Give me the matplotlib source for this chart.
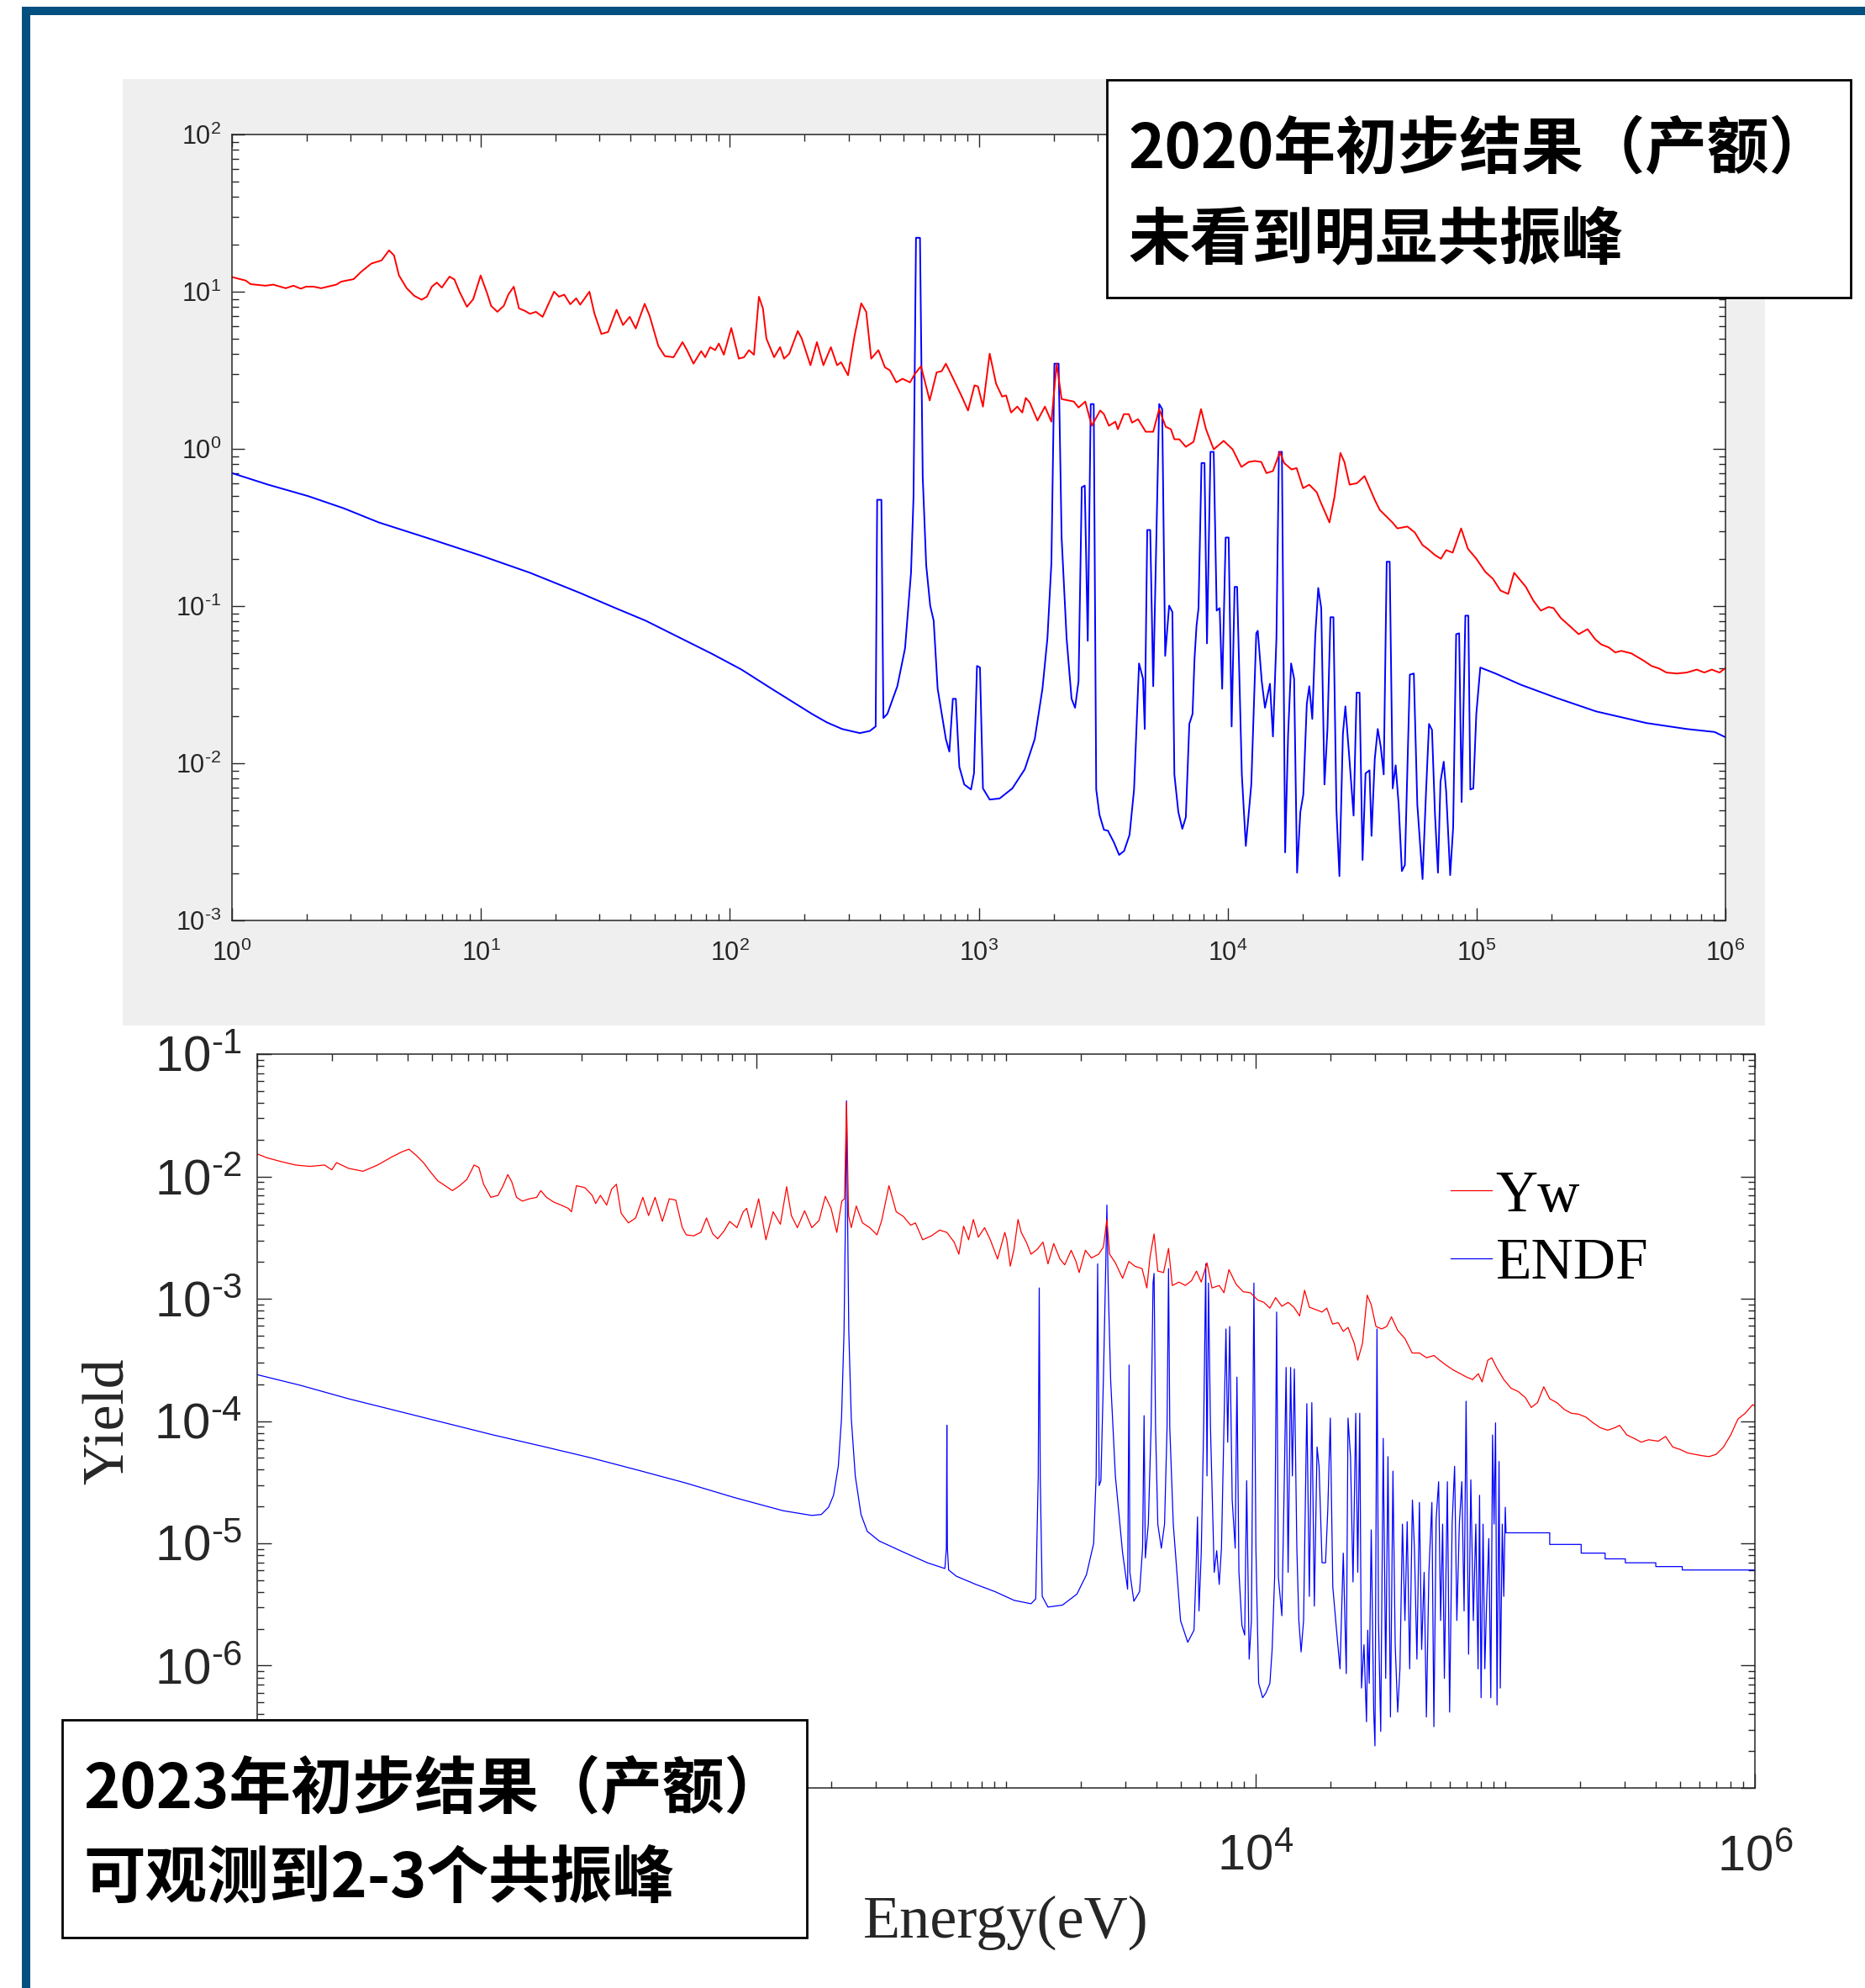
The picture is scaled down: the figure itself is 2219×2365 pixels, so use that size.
import matplotlib.pyplot as plt
import numpy as np
from matplotlib.patches import Rectangle
from matplotlib.ticker import FixedLocator, FuncFormatter, NullFormatter

plt.rcParams['font.family'] = ['Liberation Sans', 'Noto Sans CJK SC']
plt.rcParams['mathtext.fontset'] = 'custom'
plt.rcParams['mathtext.rm'] = 'Liberation Sans'
plt.rcParams['mathtext.default'] = 'regular'
plt.rcParams['axes.unicode_minus'] = False

# (log10 E [eV], log10 yield) pairs, 2020 measurement vs ENDF
yield_2020 = [
    (0.000, 1.093), (0.055, 1.071), (0.075, 1.048), (0.135, 1.038), (0.166, 1.045), (0.216, 1.022),
    (0.247, 1.038), (0.277, 1.019), (0.297, 1.032), (0.328, 1.032), (0.358, 1.022), (0.419, 1.045),
    (0.439, 1.064), (0.489, 1.080), (0.520, 1.128), (0.560, 1.179), (0.601, 1.199), (0.631, 1.263),
    (0.651, 1.231), (0.671, 1.103), (0.702, 1.022), (0.732, 0.974), (0.762, 0.949), (0.783, 0.968),
    (0.803, 1.032), (0.823, 1.058), (0.843, 1.026), (0.874, 1.096), (0.894, 1.077), (0.914, 1.000),
    (0.944, 0.904), (0.969, 0.952), (0.999, 1.103), (1.025, 0.990), (1.041, 0.910), (1.066, 0.872),
    (1.092, 0.910), (1.110, 0.981), (1.132, 1.032), (1.153, 0.894), (1.177, 0.878), (1.197, 0.859),
    (1.221, 0.872), (1.248, 0.840), (1.294, 1.000), (1.314, 0.968), (1.335, 0.981), (1.359, 0.920),
    (1.383, 0.958), (1.399, 0.917), (1.436, 1.000), (1.456, 0.862), (1.484, 0.731), (1.511, 0.744),
    (1.545, 0.885), (1.571, 0.788), (1.598, 0.840), (1.622, 0.766), (1.658, 0.923), (1.678, 0.846),
    (1.713, 0.654), (1.739, 0.590), (1.774, 0.583), (1.810, 0.679), (1.828, 0.628), (1.854, 0.542),
    (1.885, 0.622), (1.901, 0.583), (1.921, 0.647), (1.941, 0.628), (1.956, 0.670), (1.976, 0.599),
    (2.006, 0.769), (2.036, 0.574), (2.057, 0.583), (2.077, 0.628), (2.097, 0.599), (2.117, 0.968),
    (2.133, 0.894), (2.147, 0.702), (2.178, 0.583), (2.202, 0.647), (2.218, 0.574), (2.239, 0.606),
    (2.273, 0.750), (2.289, 0.702), (2.324, 0.532), (2.350, 0.679), (2.376, 0.532), (2.406, 0.647),
    (2.431, 0.532), (2.447, 0.551), (2.475, 0.468), (2.501, 0.718), (2.528, 0.926), (2.548, 0.872),
    (2.568, 0.574), (2.597, 0.628), (2.623, 0.519), (2.643, 0.500), (2.669, 0.423), (2.694, 0.446),
    (2.724, 0.423), (2.744, 0.478), (2.768, 0.526), (2.803, 0.308), (2.831, 0.487), (2.851, 0.494),
    (2.868, 0.542), (2.888, 0.478), (2.932, 0.333), (2.957, 0.244), (2.983, 0.404), (2.997, 0.397),
    (3.017, 0.269), (3.044, 0.606), (3.070, 0.413), (3.094, 0.333), (3.110, 0.340), (3.130, 0.231),
    (3.155, 0.269), (3.175, 0.231), (3.189, 0.324), (3.205, 0.295), (3.236, 0.180), (3.266, 0.269),
    (3.292, 0.173), (3.313, 0.542), (3.333, 0.317), (3.382, 0.301), (3.401, 0.263), (3.428, 0.301),
    (3.454, 0.147), (3.488, 0.244), (3.503, 0.221), (3.523, 0.147), (3.549, 0.173), (3.559, 0.125),
    (3.583, 0.221), (3.603, 0.221), (3.616, 0.167), (3.640, 0.189), (3.671, 0.109), (3.701, 0.109),
    (3.725, 0.253), (3.751, 0.141), (3.772, 0.125), (3.786, 0.061), (3.806, 0.061), (3.832, 0.013),
    (3.863, 0.045), (3.893, 0.253), (3.913, 0.125), (3.944, -0.003), (3.984, 0.051), (4.020, -0.003),
    (4.055, -0.115), (4.085, -0.083), (4.109, -0.077), (4.135, -0.083), (4.156, -0.154), (4.182, -0.141),
    (4.210, -0.019), (4.227, -0.090), (4.257, -0.131), (4.277, -0.122), (4.303, -0.250), (4.328, -0.228),
    (4.358, -0.276), (4.372, -0.333), (4.409, -0.468), (4.429, -0.308), (4.453, -0.026), (4.469, -0.083),
    (4.490, -0.228), (4.520, -0.218), (4.550, -0.173), (4.591, -0.324), (4.611, -0.388), (4.662, -0.468),
    (4.682, -0.506), (4.722, -0.494), (4.752, -0.532), (4.783, -0.612), (4.803, -0.635), (4.833, -0.676),
    (4.857, -0.699), (4.878, -0.644), (4.904, -0.660), (4.938, -0.506), (4.965, -0.635), (4.999, -0.699),
    (5.035, -0.782), (5.066, -0.827), (5.096, -0.901), (5.127, -0.923), (5.151, -0.788), (5.198, -0.878),
    (5.228, -0.965), (5.258, -1.029), (5.289, -1.006), (5.309, -1.013), (5.339, -1.077), (5.380, -1.135),
    (5.410, -1.179), (5.446, -1.147), (5.477, -1.212), (5.501, -1.244), (5.531, -1.263), (5.557, -1.295),
    (5.581, -1.285), (5.622, -1.301), (5.673, -1.349), (5.703, -1.381), (5.733, -1.397), (5.763, -1.423),
    (5.804, -1.429), (5.844, -1.423), (5.885, -1.404), (5.915, -1.423), (5.945, -1.404), (5.976, -1.423),
    (5.998, -1.397),
]

endf_2020 = [
    (0.000, -0.154), (0.146, -0.228), (0.307, -0.301), (0.449, -0.378), (0.590, -0.468), (0.793, -0.571),
    (0.995, -0.676), (1.197, -0.788), (1.399, -0.917), (1.541, -1.013), (1.662, -1.093), (1.804, -1.205),
    (1.925, -1.301), (2.047, -1.404), (2.168, -1.526), (2.249, -1.606), (2.330, -1.686), (2.390, -1.740),
    (2.451, -1.782), (2.522, -1.808), (2.562, -1.795), (2.586, -1.766), (2.592, -0.324), (2.609, -0.324),
    (2.617, -1.712), (2.633, -1.686), (2.673, -1.510), (2.704, -1.269), (2.728, -0.788), (2.738, -0.308),
    (2.748, 1.343), (2.764, 1.343), (2.775, -0.179), (2.789, -0.740), (2.805, -0.997), (2.819, -1.093),
    (2.835, -1.526), (2.868, -1.846), (2.882, -1.926), (2.896, -1.590), (2.908, -1.590), (2.922, -2.022),
    (2.942, -2.135), (2.969, -2.167), (2.981, -2.064), (2.993, -1.381), (3.005, -1.391), (3.017, -2.160),
    (3.044, -2.231), (3.084, -2.224), (3.135, -2.160), (3.185, -2.038), (3.225, -1.846), (3.256, -1.526),
    (3.276, -1.205), (3.292, -0.724), (3.304, 0.542), (3.321, 0.542), (3.333, -0.564), (3.353, -1.205),
    (3.373, -1.590), (3.387, -1.647), (3.401, -1.478), (3.414, -0.244), (3.426, -0.234), (3.438, -1.221),
    (3.450, 0.285), (3.462, 0.285), (3.472, -2.167), (3.485, -2.327), (3.503, -2.423), (3.519, -2.429),
    (3.543, -2.503), (3.564, -2.583), (3.584, -2.558), (3.606, -2.455), (3.624, -2.167), (3.632, -1.846),
    (3.644, -1.365), (3.660, -1.462), (3.667, -1.782), (3.677, -0.516), (3.689, -0.516), (3.701, -1.510),
    (3.725, 0.285), (3.737, 0.253), (3.749, -1.317), (3.765, -0.997), (3.778, -1.038), (3.786, -2.071),
    (3.802, -2.311), (3.818, -2.417), (3.832, -2.343), (3.846, -1.750), (3.859, -1.686), (3.867, -1.333),
    (3.875, -1.125), (3.883, -1.013), (3.895, -0.090), (3.907, -0.090), (3.917, -1.237), (3.931, -0.019),
    (3.944, -0.019), (3.956, -1.029), (3.968, -1.013), (3.978, -1.526), (3.992, -0.564), (4.004, -0.564),
    (4.016, -1.766), (4.028, -0.878), (4.038, -0.878), (4.057, -2.071), (4.073, -2.526), (4.095, -2.135),
    (4.115, -1.173), (4.121, -1.157), (4.137, -1.478), (4.150, -1.647), (4.170, -1.494), (4.182, -1.830),
    (4.196, -1.205), (4.206, -0.019), (4.218, -0.019), (4.231, -2.567), (4.243, -1.814), (4.255, -1.365),
    (4.267, -1.462), (4.279, -2.696), (4.292, -2.311), (4.304, -2.199), (4.318, -1.622), (4.328, -1.510),
    (4.340, -1.718), (4.352, -1.189), (4.364, -0.885), (4.376, -1.013), (4.389, -2.135), (4.401, -1.782),
    (4.413, -1.071), (4.425, -1.071), (4.437, -2.295), (4.449, -2.718), (4.463, -1.814), (4.473, -1.638),
    (4.490, -1.990), (4.506, -2.333), (4.518, -1.551), (4.530, -1.551), (4.542, -2.615), (4.554, -2.064),
    (4.570, -2.045), (4.578, -2.462), (4.591, -1.974), (4.603, -1.782), (4.615, -1.894), (4.627, -2.071),
    (4.639, -0.718), (4.651, -0.718), (4.663, -2.160), (4.675, -2.013), (4.687, -2.263), (4.700, -2.686),
    (4.712, -2.647), (4.732, -1.436), (4.748, -1.429), (4.762, -2.263), (4.783, -2.737), (4.797, -2.183),
    (4.809, -1.750), (4.821, -1.788), (4.833, -2.327), (4.845, -2.696), (4.855, -2.119), (4.868, -1.990),
    (4.878, -2.183), (4.894, -2.712), (4.906, -2.407), (4.918, -1.179), (4.930, -1.173), (4.940, -2.247),
    (4.955, -1.061), (4.967, -1.061), (4.975, -2.167), (4.987, -2.160), (4.999, -1.686), (5.015, -1.391),
    (5.076, -1.429), (5.177, -1.500), (5.319, -1.583), (5.480, -1.670), (5.682, -1.744), (5.844, -1.782),
    (5.956, -1.801), (5.998, -1.833),
]

# 2023 measurement (Yw) vs ENDF
yield_2023 = [
    (0.000, -1.816), (0.038, -1.847), (0.096, -1.879), (0.154, -1.907), (0.212, -1.918), (0.270, -1.907),
    (0.299, -1.946), (0.318, -1.887), (0.366, -1.934), (0.424, -1.958), (0.482, -1.907), (0.540, -1.840),
    (0.579, -1.800), (0.608, -1.777), (0.637, -1.828), (0.666, -1.887), (0.695, -1.966), (0.724, -2.037),
    (0.753, -2.076), (0.782, -2.116), (0.811, -2.076), (0.840, -2.025), (0.869, -1.907), (0.888, -1.926),
    (0.907, -2.064), (0.936, -2.171), (0.965, -2.155), (0.985, -2.076), (1.004, -1.985), (1.020, -2.045),
    (1.039, -2.171), (1.062, -2.202), (1.091, -2.183), (1.120, -2.171), (1.136, -2.116), (1.159, -2.171),
    (1.188, -2.210), (1.217, -2.234), (1.246, -2.261), (1.259, -2.289), (1.279, -2.076), (1.313, -2.092),
    (1.342, -2.155), (1.356, -2.222), (1.375, -2.155), (1.400, -2.234), (1.420, -2.104), (1.439, -2.064),
    (1.458, -2.301), (1.487, -2.380), (1.516, -2.340), (1.545, -2.171), (1.568, -2.320), (1.594, -2.171),
    (1.623, -2.368), (1.651, -2.183), (1.677, -2.194), (1.703, -2.419), (1.719, -2.478), (1.748, -2.486),
    (1.777, -2.458), (1.800, -2.340), (1.825, -2.470), (1.845, -2.510), (1.870, -2.447), (1.893, -2.368),
    (1.922, -2.419), (1.947, -2.289), (1.961, -2.261), (1.980, -2.419), (2.009, -2.183), (2.038, -2.518),
    (2.067, -2.289), (2.096, -2.391), (2.121, -2.084), (2.140, -2.320), (2.164, -2.419), (2.193, -2.281),
    (2.222, -2.419), (2.251, -2.360), (2.276, -2.163), (2.299, -2.261), (2.322, -2.458), (2.342, -2.202),
    (2.353, -2.183), (2.361, -1.394), (2.369, -2.320), (2.380, -2.419), (2.400, -2.242), (2.425, -2.380),
    (2.454, -2.419), (2.483, -2.478), (2.502, -2.360), (2.531, -2.076), (2.560, -2.289), (2.589, -2.328),
    (2.618, -2.399), (2.637, -2.380), (2.666, -2.518), (2.701, -2.486), (2.734, -2.439), (2.763, -2.458),
    (2.792, -2.537), (2.811, -2.636), (2.830, -2.407), (2.850, -2.518), (2.869, -2.352), (2.889, -2.497),
    (2.914, -2.419), (2.937, -2.518), (2.966, -2.675), (2.995, -2.458), (3.003, -2.518), (3.017, -2.734),
    (3.032, -2.596), (3.048, -2.352), (3.061, -2.458), (3.081, -2.537), (3.100, -2.636), (3.125, -2.596),
    (3.148, -2.537), (3.168, -2.715), (3.191, -2.549), (3.216, -2.675), (3.235, -2.723), (3.261, -2.604),
    (3.280, -2.695), (3.293, -2.786), (3.318, -2.604), (3.342, -2.667), (3.371, -2.636), (3.390, -2.577),
    (3.404, -2.352), (3.415, -2.636), (3.438, -2.707), (3.467, -2.833), (3.492, -2.695), (3.516, -2.734),
    (3.545, -2.754), (3.564, -2.912), (3.577, -2.655), (3.593, -2.470), (3.608, -2.774), (3.631, -2.786),
    (3.651, -2.589), (3.666, -2.892), (3.693, -2.864), (3.718, -2.892), (3.743, -2.853), (3.763, -2.774),
    (3.782, -2.864), (3.805, -2.707), (3.825, -2.912), (3.854, -2.892), (3.873, -2.951), (3.893, -2.762),
    (3.921, -2.880), (3.950, -2.943), (3.979, -2.951), (4.008, -3.010), (4.033, -3.030), (4.057, -3.077),
    (4.080, -2.991), (4.105, -3.062), (4.130, -3.030), (4.153, -3.069), (4.176, -3.140), (4.196, -2.931),
    (4.215, -3.069), (4.240, -3.089), (4.266, -3.109), (4.285, -3.077), (4.308, -3.207), (4.331, -3.196),
    (4.351, -3.267), (4.370, -3.235), (4.395, -3.365), (4.409, -3.503), (4.428, -3.365), (4.447, -2.971),
    (4.463, -3.050), (4.482, -3.227), (4.505, -3.247), (4.525, -3.227), (4.544, -3.148), (4.569, -3.259),
    (4.598, -3.326), (4.627, -3.444), (4.656, -3.444), (4.685, -3.483), (4.714, -3.464), (4.737, -3.503),
    (4.762, -3.542), (4.791, -3.582), (4.820, -3.613), (4.845, -3.641), (4.869, -3.661), (4.892, -3.613),
    (4.907, -3.680), (4.930, -3.503), (4.946, -3.483), (4.965, -3.562), (4.994, -3.661), (5.023, -3.732),
    (5.052, -3.759), (5.081, -3.810), (5.104, -3.889), (5.129, -3.850), (5.154, -3.720), (5.178, -3.818),
    (5.207, -3.850), (5.236, -3.905), (5.265, -3.937), (5.294, -3.944), (5.323, -3.968), (5.352, -4.015),
    (5.381, -4.055), (5.410, -4.075), (5.439, -4.055), (5.458, -4.035), (5.487, -4.114), (5.516, -4.142),
    (5.545, -4.173), (5.574, -4.153), (5.613, -4.165), (5.642, -4.126), (5.671, -4.213), (5.700, -4.232),
    (5.729, -4.260), (5.758, -4.272), (5.787, -4.283), (5.816, -4.291), (5.845, -4.272), (5.874, -4.213),
    (5.903, -4.114), (5.932, -3.984), (5.961, -3.937), (5.991, -3.866), (5.999, -3.877),
]

endf_2023 = [
    (0.000, -3.621), (0.173, -3.708), (0.366, -3.818), (0.560, -3.917), (0.753, -4.015), (0.946, -4.114),
    (1.139, -4.205), (1.333, -4.299), (1.526, -4.402), (1.719, -4.508), (1.912, -4.626), (2.106, -4.733),
    (2.222, -4.772), (2.260, -4.764), (2.289, -4.705), (2.309, -4.607), (2.328, -4.370), (2.341, -3.976),
    (2.351, -3.266), (2.357, -2.281), (2.361, -1.382), (2.365, -2.281), (2.370, -3.266), (2.380, -3.976),
    (2.396, -4.449), (2.419, -4.764), (2.444, -4.902), (2.492, -4.981), (2.589, -5.072), (2.685, -5.159),
    (2.755, -5.206), (2.761, -5.040), (2.763, -4.035), (2.765, -5.040), (2.770, -5.218), (2.801, -5.269),
    (2.879, -5.336), (2.956, -5.395), (3.032, -5.466), (3.100, -5.494), (3.119, -5.454), (3.129, -4.449),
    (3.133, -2.912), (3.137, -4.449), (3.145, -5.434), (3.168, -5.521), (3.226, -5.505), (3.284, -5.415),
    (3.322, -5.257), (3.351, -5.001), (3.361, -4.449), (3.367, -2.715), (3.373, -4.528), (3.380, -4.488),
    (3.390, -3.661), (3.398, -2.872), (3.404, -2.234), (3.409, -2.872), (3.419, -3.661), (3.438, -4.449),
    (3.467, -5.080), (3.487, -5.375), (3.493, -3.542), (3.496, -5.237), (3.512, -5.474), (3.535, -5.395),
    (3.547, -5.040), (3.553, -3.956), (3.558, -5.119), (3.570, -4.843), (3.581, -4.055), (3.589, -2.872),
    (3.593, -2.793), (3.599, -4.055), (3.608, -4.843), (3.622, -5.040), (3.635, -4.843), (3.645, -4.055),
    (3.651, -2.754), (3.656, -4.055), (3.670, -4.843), (3.699, -5.631), (3.728, -5.809), (3.753, -5.710),
    (3.761, -5.237), (3.767, -4.784), (3.773, -5.553), (3.782, -5.080), (3.792, -4.015), (3.800, -2.715),
    (3.805, -4.449), (3.811, -2.872), (3.819, -4.055), (3.834, -5.237), (3.844, -5.060), (3.854, -5.336),
    (3.863, -5.040), (3.873, -4.055), (3.881, -3.247), (3.888, -4.173), (3.896, -3.227), (3.906, -4.646),
    (3.918, -5.040), (3.925, -3.641), (3.933, -5.237), (3.945, -5.671), (3.956, -5.750), (3.964, -4.488),
    (3.974, -5.947), (3.983, -5.631), (3.993, -2.872), (4.001, -5.040), (4.012, -6.144), (4.028, -6.262),
    (4.041, -6.223), (4.057, -6.144), (4.066, -5.868), (4.076, -5.277), (4.084, -3.109), (4.091, -5.277),
    (4.105, -5.592), (4.115, -4.449), (4.122, -3.562), (4.130, -5.237), (4.140, -3.562), (4.147, -4.449),
    (4.155, -3.574), (4.165, -5.040), (4.173, -5.631), (4.182, -5.888), (4.192, -5.631), (4.205, -3.858),
    (4.215, -5.434), (4.225, -3.850), (4.235, -5.513), (4.246, -4.212), (4.254, -4.370), (4.266, -5.159),
    (4.280, -5.159), (4.289, -4.725), (4.299, -3.976), (4.309, -5.356), (4.324, -5.710), (4.338, -6.026),
    (4.351, -5.080), (4.363, -6.065), (4.370, -3.976), (4.380, -4.291), (4.390, -5.316), (4.401, -3.937),
    (4.409, -5.237), (4.417, -3.937), (4.424, -6.183), (4.434, -5.829), (4.444, -6.459), (4.449, -5.710),
    (4.455, -6.144), (4.463, -4.890), (4.473, -6.380), (4.478, -6.656), (4.486, -3.247), (4.492, -5.631),
    (4.501, -6.538), (4.511, -4.142), (4.521, -6.104), (4.530, -4.291), (4.540, -6.420), (4.550, -4.410),
    (4.559, -5.829), (4.569, -6.380), (4.578, -6.026), (4.588, -4.843), (4.598, -5.631), (4.607, -4.823),
    (4.617, -6.026), (4.628, -4.646), (4.636, -5.040), (4.646, -5.947), (4.656, -4.666), (4.665, -5.868),
    (4.675, -5.237), (4.684, -6.420), (4.694, -5.237), (4.706, -4.666), (4.714, -6.499), (4.723, -4.804),
    (4.733, -4.496), (4.741, -5.631), (4.749, -4.843), (4.756, -6.104), (4.768, -4.496), (4.777, -6.380),
    (4.787, -4.843), (4.797, -4.370), (4.806, -5.631), (4.816, -4.843), (4.826, -4.496), (4.835, -5.553),
    (4.843, -3.838), (4.853, -5.907), (4.862, -4.481), (4.872, -5.631), (4.882, -4.843), (4.891, -6.026),
    (4.897, -4.607), (4.903, -6.262), (4.911, -4.843), (4.918, -6.026), (4.926, -5.434), (4.934, -4.961),
    (4.942, -6.262), (4.949, -4.114), (4.955, -4.843), (4.961, -4.015), (4.967, -6.321), (4.975, -4.331),
    (4.980, -6.183), (4.988, -4.843), (4.994, -5.434), (5.000, -4.705), (5.003, -4.914), (5.178, -4.914),
    (5.178, -5.009), (5.304, -5.009), (5.304, -5.080), (5.400, -5.080), (5.400, -5.127), (5.481, -5.127),
    (5.481, -5.159), (5.603, -5.159), (5.603, -5.190), (5.709, -5.190), (5.709, -5.218), (5.999, -5.218),
]

box_2020 = ['2020年初步结果（产额）', '未看到明显共振峰']
box_2023 = ['2023年初步结果（产额）', '可观测到2-3个共振峰']

# decades that carry a major tick; labels under the 2023 note box are left blank
top_x_decades = [0, 1, 2, 3, 4, 5, 6]
top_y_decades = [-3, -2, -1, 0, 1, 2]
bot_x_decades = [0, 2, 4, 6]
bot_x_labelled = [4, 6]
bot_y_decades = [-7, -6, -5, -4, -3, -2, -1]
bot_y_labelled = [-6, -5, -4, -3, -2, -1]

W, H = 2219, 2365
INK = '#262626'


def fig_rect(left, top, right, bottom):
    return [left / W, 1 - bottom / H, (right - left) / W, (bottom - top) / H]


def to_xy(pairs):
    arr = np.array(pairs)
    return 10 ** arr[:, 0], 10 ** arr[:, 1]


def minor_positions(lo, hi):
    return [m * 10.0 ** d for d in range(lo, hi) for m in range(1, 10)
            if 10.0 ** lo <= m * 10.0 ** d <= 10.0 ** hi]


def power_formatter(shown):
    # exponent written with a plain hyphen, the way MATLAB prints it
    def fmt(v, pos):
        n = int(round(np.log10(v)))
        if n not in shown:
            return ''
        if n < 0:
            return r'$10^{\text{-}%d}$' % -n
        return '$10^{%d}$' % n
    return FuncFormatter(fmt)


def style_log_axes(ax, xdec, ydec, xshown, yshown, size, major_len, minor_len, pad_x, pad_y):
    ax.set_xscale('log')
    ax.set_yscale('log')
    ax.set_xlim(10.0 ** min(top_x_decades), 10.0 ** max(top_x_decades))
    ax.set_ylim(10.0 ** min(ydec), 10.0 ** max(ydec))
    ax.xaxis.set_major_locator(FixedLocator([10.0 ** d for d in xdec]))
    ax.xaxis.set_major_formatter(power_formatter(xshown))
    ax.xaxis.set_minor_locator(FixedLocator(minor_positions(0, 6)))
    ax.xaxis.set_minor_formatter(NullFormatter())
    ax.yaxis.set_major_locator(FixedLocator([10.0 ** d for d in ydec]))
    ax.yaxis.set_major_formatter(power_formatter(yshown))
    ax.yaxis.set_minor_locator(FixedLocator(minor_positions(min(ydec), max(ydec))))
    ax.yaxis.set_minor_formatter(NullFormatter())
    ax.tick_params(which='both', direction='in', top=True, right=True, color=INK,
                   labelcolor=INK, labelsize=size, width=1.0)
    ax.tick_params(which='major', length=major_len)
    ax.tick_params(which='minor', length=minor_len)
    ax.tick_params(axis='x', pad=pad_x)
    ax.tick_params(axis='y', pad=pad_y)
    for sp in ax.spines.values():
        sp.set_color(INK)
        sp.set_linewidth(1.1)


fig = plt.figure(figsize=(W / 100, H / 100), dpi=100)

# slide frame and grey figure background of the 2020 plot
fig.add_artist(Rectangle((26 / W, 1 - 18 / H), (W - 26) / W, 10 / H, transform=fig.transFigure,
                         facecolor='#01507f', edgecolor='none', zorder=-2))
fig.add_artist(Rectangle((26 / W, 0), 10 / W, 1 - 8 / H, transform=fig.transFigure,
                         facecolor='#01507f', edgecolor='none', zorder=-2))
fig.add_artist(Rectangle((146 / W, 1 - 1220 / H), (2100 - 146) / W, (1220 - 94) / H,
                         transform=fig.transFigure, facecolor='#efefef', edgecolor='none', zorder=-1))

# 2020 result
ax1 = fig.add_axes(fig_rect(276, 160, 2053, 1095))
x, y = to_xy(endf_2020)
ax1.plot(x, y, color='b', lw=1.4)
x, y = to_xy(yield_2020)
ax1.plot(x, y, color='r', lw=1.4)
style_log_axes(ax1, top_x_decades, top_y_decades, top_x_decades, top_y_decades,
               22, 11, 6, 17, 9)

# 2023 result
ax2 = fig.add_axes(fig_rect(306, 1254, 2088, 2127))
x, y = to_xy(endf_2023)
l_endf, = ax2.plot(x, y, color='b', lw=0.9)
x, y = to_xy(yield_2023)
l_yw, = ax2.plot(x, y, color='r', lw=0.9)
style_log_axes(ax2, bot_x_decades, bot_y_decades, bot_x_labelled, bot_y_labelled,
               43, 12, 6, 40, 13)
ax2.set_xlabel('Energy(eV)', family='Liberation Serif', fontsize=52, color=INK, va='center')
ax2.xaxis.set_label_coords(0.5, -(2287 - 2127) / 873)
ax2.set_ylabel('Yield', family='Liberation Serif', fontsize=50, color=INK, va='center')
ax2.yaxis.set_label_coords((129 - 306) / 1782, 0.5)
ax2.legend([l_yw, l_endf], ['Yw', 'ENDF'], loc='upper left', bbox_to_anchor=(0.797, 0.842),
           frameon=False, borderaxespad=0, borderpad=0, handlelength=0.7, handletextpad=0.07,
           labelspacing=0.24, prop={'family': 'Liberation Serif', 'size': 50})

# annotation boxes
for (left, top, right, bottom), lines, baselines in [
        ((1317, 95, 2202, 354), box_2020, (199, 307)),
        ((74, 2046, 960, 2305), box_2023, (2150, 2257))]:
    fig.add_artist(Rectangle((left / W, 1 - bottom / H), (right - left) / W, (bottom - top) / H,
                             transform=fig.transFigure, facecolor='white', edgecolor='black',
                             lw=2.0, zorder=5))
    for txt, base in zip(lines, baselines):
        fig.text((left + 25) / W, 1 - base / H, txt, family=['Noto Sans CJK SC'],
                 fontweight='heavy', fontsize=53, color='black', va='baseline', ha='left', zorder=6)

fig.savefig('out.png', dpi=100)
